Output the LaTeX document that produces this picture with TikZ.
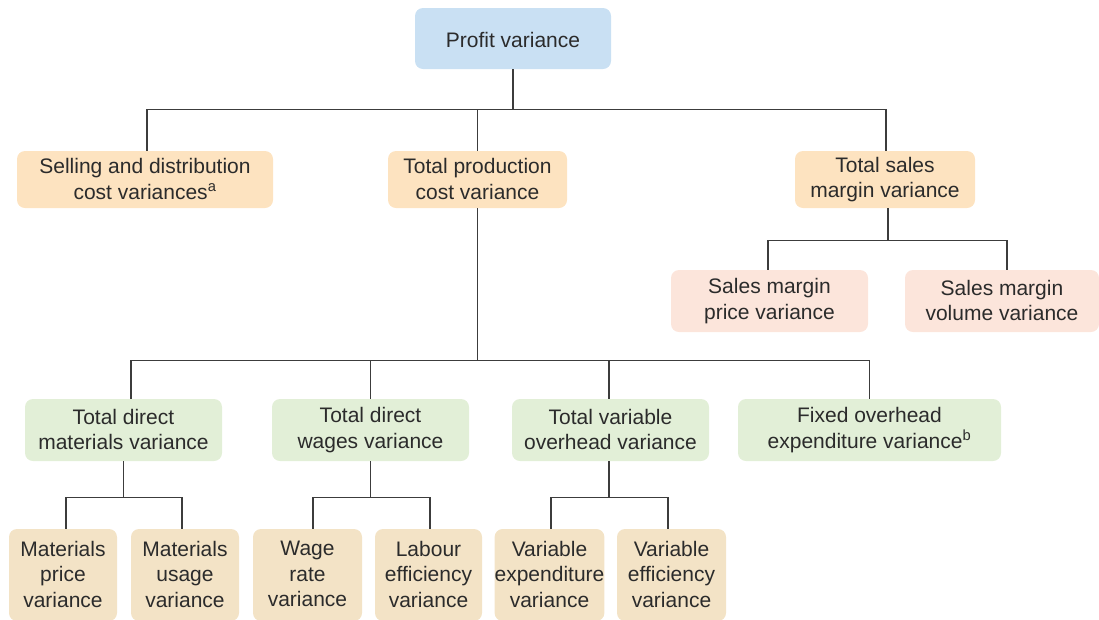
\documentclass[tikz,border=0pt]{standalone}
\usepackage{fontspec}
\setmainfont{Liberation Sans}
\definecolor{topblue}{HTML}{C9E0F3}
\definecolor{levorange}{HTML}{FDE3C0}
\definecolor{levpink}{HTML}{FCE5DB}
\definecolor{levgreen}{HTML}{E2EFD7}
\definecolor{levtan}{HTML}{F3E3C6}
\definecolor{inkgray}{HTML}{2B2B2B}
\definecolor{wiregray}{HTML}{3C3C3C}
% struts so that each box centres its lines by the letters
\newcommand{\boxstrut}{\rule[-1.5pt]{0pt}{25pt}}
\newcommand{\onestrut}{\rule[-5.5pt]{0pt}{25pt}}

\begin{document}
\begin{tikzpicture}[x=1pt, y=-1pt,
    box/.style={rounded corners=8pt, align=center, inner sep=0pt,
      text=inkgray, font=\fontsize{21}{25.5}\selectfont,
      execute at begin node=\boxstrut, execute at end node=\boxstrut},
    blubox/.style={box, fill=topblue, minimum height=61pt,
      execute at begin node=\onestrut, execute at end node=\onestrut},
    orbox/.style={box, fill=levorange, minimum height=57pt},
    pkbox/.style={box, fill=levpink, minimum height=62pt},
    grbox/.style={box, fill=levgreen, minimum height=62pt},
    tnbox/.style={box, fill=levtan, minimum height=92pt},
    wire/.style={draw=wiregray, line width=1.2pt}]
  \clip (0,0) rectangle (1099,619);
  % Top of the tree
  \node[blubox, minimum width=196pt] (profit) at (513,38.5) {Profit variance};

  % First level
  \node[orbox, minimum width=256pt] (selling) at (145,179.5)
    {Selling and distribution\\cost variances\textsuperscript{a}};
  \node[orbox, minimum width=179pt] (prodn) at (477.5,179.5)
    {Total production\\cost variance};
  \node[orbox, minimum width=180pt] (salesm) at (885,179.5)
    {Total sales\\margin variance};

  % Sales margin split
  \node[pkbox, minimum width=197pt] (smprice) at (769.5,301)
    {Sales margin\\price variance};
  \node[pkbox, minimum width=194pt] (smvol) at (1002,301)
    {Sales margin\\volume variance};

  % Production cost split
  \node[grbox, minimum width=197pt] (dmat) at (123.5,430)
    {Total direct\\materials variance};
  \node[grbox, minimum width=197pt] (dwage) at (370.5,430)
    {Total direct\\wages variance};
  \node[grbox, minimum width=197pt] (varoh) at (610.5,430)
    {Total variable\\overhead variance};
  \node[grbox, minimum width=263pt] (fixoh) at (869.5,430)
    {Fixed overhead\\expenditure variance\textsuperscript{b}};

  % Bottom row
  \node[tnbox, minimum width=108pt] (mprice) at (63,575)
    {Materials\\price\\variance};
  \node[tnbox, minimum width=108pt] (musage) at (185,575)
    {Materials\\usage\\variance};
  \node[tnbox, minimum width=109pt] (wrate) at (307.5,575)
    {Wage\\rate\\variance};
  \node[tnbox, minimum width=107pt] (labeff) at (428.5,575)
    {Labour\\efficiency\\variance};
  \node[tnbox, minimum width=109pt] (varexp) at (549.5,575)
    {Variable\\expenditure\\variance};
  \node[tnbox, minimum width=109pt] (vareff) at (671.5,575)
    {Variable\\efficiency\\variance};

  % Connectors
  \draw[wire] (profit.south) -- ++(0,40) coordinate (busA);
  \draw[wire] ([xshift=2pt]selling.north) |- (busA) -| ([xshift=1pt]salesm.north);
  \draw[wire] (prodn.north) -- (prodn.north |- busA);

  \draw[wire] ([xshift=3pt]salesm.south) -- ++(0,32) coordinate (busB);
  \draw[wire] ([xshift=-1.5pt]smprice.north) |- (busB) -| ([xshift=5pt]smvol.north);

  \draw[wire] (prodn.south) -- ++(0,152) coordinate (busC);
  \draw[wire] ([xshift=7.5pt]dmat.north) |- (busC) -| (fixoh.north);
  \draw[wire] (dwage.north) -- (dwage.north |- busC);
  \draw[wire] ([xshift=-1.5pt]varoh.north) -- ([xshift=-1.5pt]varoh.north |- busC);

  \draw[wire] (dmat.south) -- ++(0,36) coordinate (busD);
  \draw[wire] ([xshift=3pt]mprice.north) |- (busD) -| ([xshift=-3pt]musage.north);
  \draw[wire] (dwage.south) -- ++(0,36) coordinate (busE);
  \draw[wire] ([xshift=5.5pt]wrate.north) |- (busE) -| ([xshift=1.5pt]labeff.north);
  \draw[wire] ([xshift=-1.5pt]varoh.south) -- ++(0,36) coordinate (busF);
  \draw[wire] ([xshift=1.5pt]varexp.north) |- (busF) -| ([xshift=-3.5pt]vareff.north);
\end{tikzpicture}
\end{document}
